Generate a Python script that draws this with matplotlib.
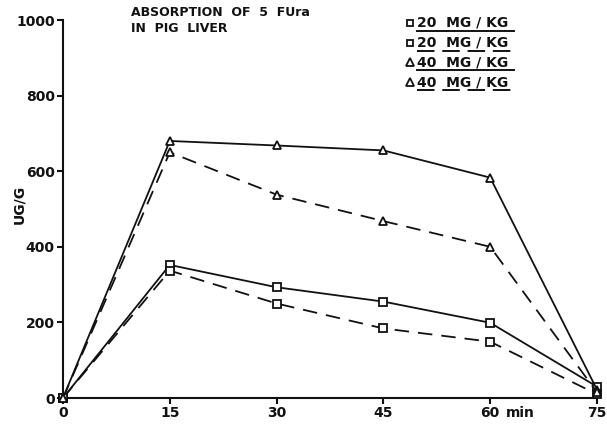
import matplotlib
matplotlib.use("Agg")
import matplotlib.pyplot as plt
from matplotlib.lines import Line2D
from matplotlib.transforms import ScaledTranslation

# time points (min)
minutes = [0, 15, 30, 45, 60, 75]

# liver concentration, ug/g
sq_solid = [0, 352, 293, 255, 199, 30]
sq_dashed = [0, 337, 250, 184, 149, 10]
tri_solid = [0, 680, 668, 655, 583, 22]
tri_dashed = [0, 650, 538, 468, 400, 15]

series = [
    ("20  MG / KG", sq_solid, "s", "-"),
    ("20  MG / KG", sq_dashed, "s", "--"),
    ("40  MG / KG", tri_solid, "^", "-"),
    ("40  MG / KG", tri_dashed, "^", "--"),
]

x_ticks = [0, 15, 30, 45, 60, 75]
x_ticklabels = ["0", "15", "30", "45", "60", "75"]
y_ticks = [0, 200, 400, 600, 800, 1000]

plt.rcParams["font.family"] = ["DejaVu Sans"]
ink = "#111111"

fig = plt.figure(figsize=(6.07, 4.25), dpi=100)
ax = fig.add_axes([63 / 607, 1 - 398 / 425, 534 / 607, 378 / 425])

for label, vals, mk, ls in series:
    kw = dict(color=ink, lw=1.3, marker=mk, markersize=5.5 if mk == "s" else 6,
              markerfacecolor="white", markeredgecolor=ink, markeredgewidth=1.3,
              clip_on=False, zorder=3)
    if ls == "--":
        ax.plot(minutes, vals, dashes=(8, 5), **kw)
    else:
        ax.plot(minutes, vals, ls, **kw)

ax.set_xlim(0, 75)
ax.set_ylim(0, 1000)
ax.set_xticks(x_ticks)
ax.set_xticklabels(x_ticklabels)
ax.set_yticks(y_ticks)
for s in ["top", "right"]:
    ax.spines[s].set_visible(False)
for s in ["left", "bottom"]:
    ax.spines[s].set_linewidth(1.5)
    ax.spines[s].set_color(ink)
ax.tick_params(direction="out", length=4, width=1.5, colors=ink,
               labelsize=10, pad=2)
for t in ax.get_xticklabels() + ax.get_yticklabels():
    t.set_fontweight("bold")

# "min" after the 60 tick label, on the same baseline as the tick labels
min_tr = ax.get_xaxis_transform() + ScaledTranslation(16 / 100, -6 / 72, fig.dpi_scale_trans)
ax.text(60, 0, "min", transform=min_tr, ha="left", va="top",
        fontsize=10, fontweight="bold", color=ink)

ax.set_ylabel("UG/G", fontsize=10, fontweight="bold", color=ink)
ax.yaxis.set_label_coords(-0.069, 0.513)

fig.text(131 / 607, 1 - 6 / 425, "ABSORPTION  OF  5  FUra\nIN  PIG  LIVER",
         ha="left", va="top", fontsize=9, fontweight="bold", color=ink,
         linespacing=1.35)

# hand-drawn style legend: marker + underlined label (solid or dashed underline)
rows_y = [23, 43, 62, 82]
for (label, vals, mk, ls), ry in zip(series, rows_y):
    fy = 1 - ry / 425
    fig.add_artist(Line2D([410 / 607], [fy], marker=mk, markersize=5 if mk == "s" else 5.5,
                          markerfacecolor="white", markeredgecolor=ink,
                          markeredgewidth=1.3, transform=fig.transFigure))
    fig.text(417 / 607, fy, label, ha="left", va="center", fontsize=10,
             fontweight="bold", color=ink)
    uy = fy - 8 / 425
    line = Line2D([417 / 607, 514 / 607], [uy, uy], color=ink, lw=1.4,
                  transform=fig.transFigure)
    if ls == "--":
        line.set_dashes((9, 4))
    fig.add_artist(line)

fig.savefig("out.png", dpi=100)
